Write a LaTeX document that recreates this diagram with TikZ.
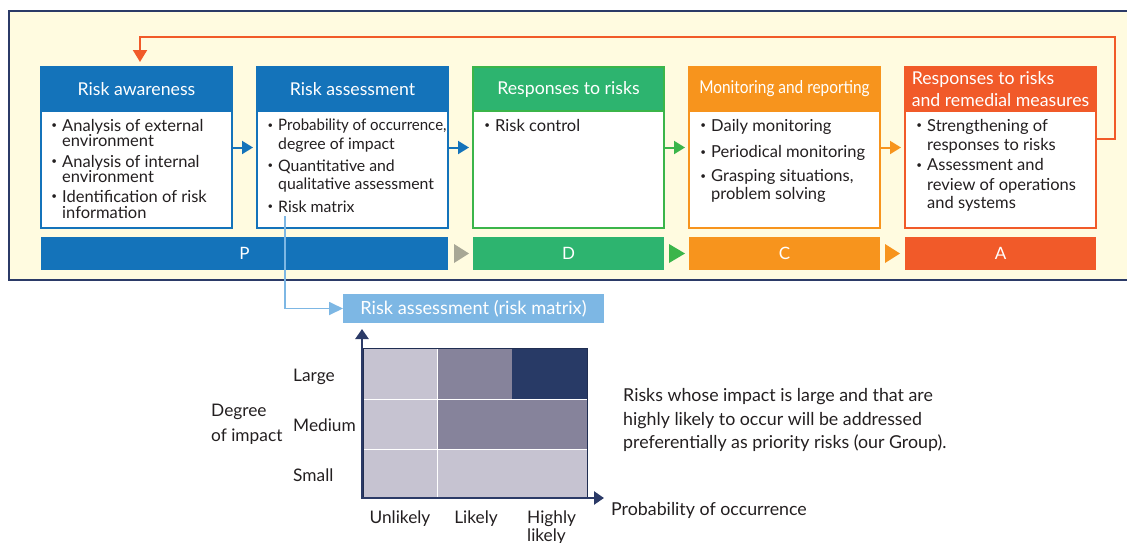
\documentclass[tikz,border=0pt]{standalone}
\usepackage{fontspec}
\setmainfont{Lato}
\usetikzlibrary{arrows.meta}
\definecolor{panelbg}{HTML}{FFFBE0}
\definecolor{navy}{HTML}{2B3A67}
\definecolor{pblue}{HTML}{1473BA}
\definecolor{pgreen}{HTML}{2DB46F}
\definecolor{agreen}{HTML}{3BB54A}
\definecolor{porange}{HTML}{F7941D}
\definecolor{pred}{HTML}{F15A29}
\definecolor{lblue}{HTML}{7DB7E4}
\definecolor{tgray}{HTML}{A8A796}
\definecolor{cellL}{HTML}{C6C3D1}
\definecolor{cellM}{HTML}{86839B}
\definecolor{cellD}{HTML}{283A66}
\definecolor{txt}{HTML}{231F20}
\newcommand\bul{\llap{\raisebox{0.3ex}{\scalebox{0.6}{•}}\hspace{5pt}}}
\begin{document}
\begin{tikzpicture}[x=1pt,y=-1pt,
 box/.style={draw=#1, fill=white, line width=1.5pt, minimum width=191pt, minimum height=161pt, inner sep=0pt, outer sep=0pt, anchor=north west},
 hdr/.style={draw=#1, fill=#1, line width=1.5pt, text=white, minimum width=191pt, minimum height=44pt, inner sep=0pt, outer sep=0pt, anchor=north west, font=\fontsize{17.7}{22}\selectfont},
 bar/.style={fill=#1, text=white, minimum height=33pt, inner sep=0pt, outer sep=0pt, anchor=north west, font=\fontsize{17}{17}\selectfont},
 body/.style={anchor=base west, inner sep=0pt, text=txt, font=\fontsize{16.5}{16.5}\selectfont},
 lbl/.style={anchor=base west, inner sep=0pt, text=txt, font=\fontsize{17.3}{17.3}\selectfont},
 para/.style={anchor=base west, inner sep=0pt, text=txt, font=\fontsize{17.8}{17.8}\selectfont},
 flow/.style={-{Triangle[length=11pt,width=13pt]}, line width=2pt, shorten >=4pt},
]
\useasboundingbox (0,0) rectangle (1127,542);
% panel
\fill[panelbg] (9,11) rectangle (1127,280);
\draw[navy, line width=1.5pt] (1127,11) -- (9,11) -- (9,280) -- (1127,280);

% boxes
\node[box=pblue] (b1) at (41,67) {};
\node[box=pblue] (b2) at (257,67) {};
\node[box=agreen] (b3) at (473,67) {};
\node[box=porange] (b4) at (689,67) {};
\node[box=pred] (b5) at (905,67) {};
\node[hdr=pblue] (h1) at (41,67) {Risk awareness};
\node[hdr=pblue] (h2) at (257,67) {Risk assessment};
\node[hdr=pgreen, draw=agreen] (h3) at (473,67) {Responses to risks};
\node[hdr=porange] (h4) at (689,67) {\scalebox{0.87}[1]{Monitoring and reporting}};
\node[hdr=pred, align=left] (h5) at (905,67) {Responses to risks\\and remedial measures};

% body text
\foreach \x/\y/\t [count=\i] in {
 62/131.5/{\bul Analysis of external}, 62/146.7/{environment},
 62/167.3/{\bul Analysis of internal}, 62/182.7/{environment},
 62/202.3/{\bul Identification of risk}, 62/218.3/{information},
 495/131/{\bul Risk control},
 711/131/{\bul Daily monitoring}, 711/157.7/{\bul Periodical monitoring},
 711/181.7/{\bul Grasping situations,}, 711/199.3/{problem solving},
 927/131/{\bul Strengthening of}, 927/150/{responses to risks},
 927/170.7/{\bul Assessment and}, 927/190/{review of operations},
 927/208.3/{and systems}}
 \node[body] (ln\i) at (\x,\y) {\t};
\foreach \x/\y/\t [count=\i] in {
 278/130.7/{\bul\scalebox{0.95}[1]{Probability of occurrence,}}, 278/149.3/{degree of impact},
 278/171/{\bul Quantitative and}, 278/189.3/{qualitative assessment},
 278/212.3/{\bul Risk matrix}}
 \node[body, font=\fontsize{15.8}{15.8}\selectfont] (ra\i) at (\x,\y) {\t};

% flow arrows
\draw[flow, pblue] (b1.east) -- (b2.west);
\draw[flow, pblue] (b2.east) -- (b3.west);
\draw[flow, agreen] (b3.east) -- (b4.west);
\draw[flow, porange] (b4.east) -- (b5.west);

% bars
\node[bar=pblue, minimum width=407pt] (pP) at (41,237) {P};
\node[bar=pgreen, minimum width=191pt] (pD) at (473,237) {D};
\node[bar=porange, minimum width=191pt] (pC) at (689,237) {C};
\node[bar=pred, minimum width=191pt] (pA) at (905,237) {A};
\fill[tgray] (454,244) -- (469,253.5) -- (454,263) -- cycle;
\fill[agreen] (669,244) -- (685,253.5) -- (669,263) -- cycle;
\fill[porange] (885,244) -- (900,253.5) -- (885,263) -- cycle;

% feedback arrow
\coordinate (fbs) at (1096,139);
\coordinate (fbe) at (140,67);
\draw[pred, line width=2pt, -{Triangle[length=12pt,width=14pt]}, shorten >=5pt]
 (fbs) -- (1115,139) -- (1115,37) -- (140,37) -- (fbe);

% risk matrix title
\node[fill=lblue, text=white, minimum width=261pt, minimum height=29pt, inner sep=0pt, outer sep=0pt, anchor=north west, font=\fontsize{18.2}{18.2}\selectfont] (ra) at (343,294) {Risk assessment (risk matrix)};
\coordinate (rms) at (285,216);
\draw[lblue, line width=1.8pt, -{Triangle[length=14pt,width=13pt]}] (rms) |- (ra.west);

% matrix
\fill[cellL] (363,348) rectangle (587,498);
\fill[cellM] (437,348) rectangle (512,399);
\fill[cellD] (512,348) rectangle (587,399);
\fill[cellM] (437,399) rectangle (587,449);
\draw[white, line width=1pt] (363,399) -- (587,399) (363,449) -- (587,449) (437,348) -- (437,498);
\draw[cellD!80!black, line width=0.8pt] (363,348) rectangle (587,498);
\coordinate (org) at (362,498);
\draw[navy, line width=2.5pt, {Triangle[length=10pt,width=13pt]}-{Triangle[length=10pt,width=13pt]}] (362,329) -- (org) -- (604,498);

% labels
\node[lbl] (lg) at (293,381) {Large};
\node[lbl] (md) at (293,431) {Medium};
\node[lbl] (sm) at (293,481) {Small};
\node[lbl] (dg1) at (211,416) {Degree};
\node[lbl] (dg2) at (211,441) {of impact};
\node[lbl, anchor=base] (xu) at (400,523) {Unlikely};
\node[lbl, anchor=base] (xl) at (476,523) {Likely};
\node[lbl] (xh1) at (527,523) {Highly};
\node[lbl] (xh2) at (527,541) {likely};
\node[para] (po) at (611,515) {Probability of occurrence};
\node[para] (p1) at (623,401.7) {Risks whose impact is large and that are};
\node[para] (p2) at (623,425) {highly likely to occur will be addressed};
\node[para] (p3) at (623,448.3) {preferentially as priority risks (our Group).};
\end{tikzpicture}
\end{document}
